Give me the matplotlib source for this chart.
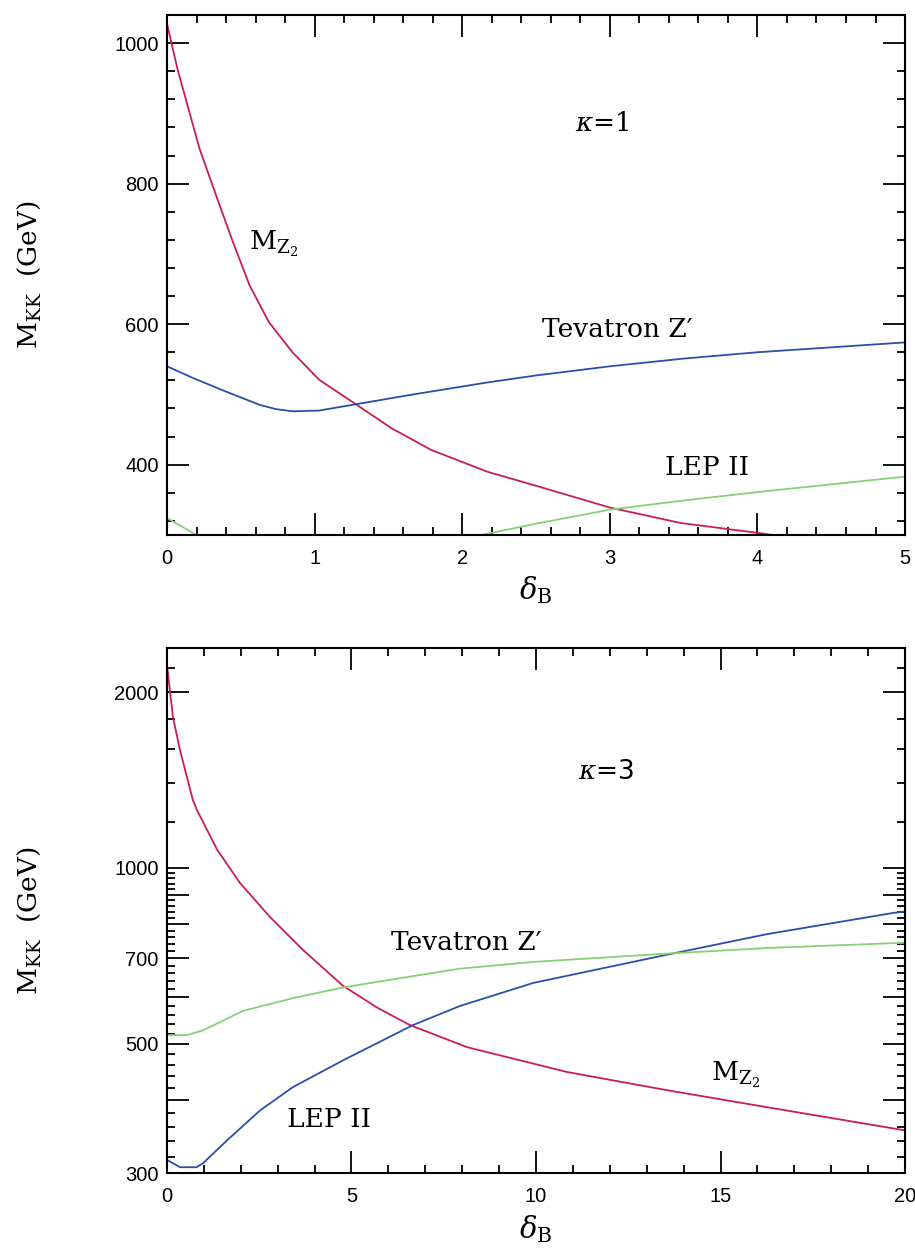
import numpy as np
import matplotlib
matplotlib.use("Agg")
import matplotlib.pyplot as plt
from matplotlib.ticker import FixedLocator, NullFormatter

plt.rcParams['mathtext.fontset'] = 'dejavuserif'

# ---- kappa = 1 (top panel) ----
top_mz2_x = [0.0, 0.07, 0.22, 0.34, 0.45, 0.56, 0.69, 0.85, 1.03, 1.28, 1.52, 1.79, 2.17, 2.5, 3.0, 3.48, 4.0, 4.1]
top_mz2_y = [1028, 964, 850, 779, 715, 655, 603, 560, 521, 486, 452, 421, 390, 370, 339, 317, 303, 300]
top_tev_x = [0.0, 0.18, 0.40, 0.63, 0.74, 0.85, 1.03, 1.28, 1.64, 2.17, 2.5, 3.0, 3.5, 4.0, 4.5, 5.0]
top_tev_y = [540, 523, 504, 485, 479, 476, 477, 486, 499, 517, 527, 540, 551, 560, 567, 574]
top_lep_x = [0.0, 0.1, 0.2, 2.13, 2.5, 3.0, 3.5, 4.0, 4.5, 5.0]
top_lep_y = [324, 312, 300, 300, 316, 336, 349, 361, 372, 383]

# ---- kappa = 3 (bottom panel) ----
bot_mz2_x = [0.0, 0.16, 0.35, 0.7, 0.81, 1.36, 1.98, 2.79, 3.69, 4.77, 5.7, 6.58, 8.13, 10.84, 13.55, 16.26, 20.0]
bot_mz2_y = [2230, 1816, 1594, 1308, 1257, 1074, 942, 824, 723, 628, 576, 538, 493, 447, 416, 389, 355]
bot_lep_x = [0.0, 0.35, 0.8, 0.98, 1.62, 2.52, 3.41, 4.77, 6.67, 7.94, 9.92, 13.55, 16.26, 19.67, 20.0]
bot_lep_y = [316, 307, 307, 312, 341, 384, 421, 468, 538, 580, 635, 710, 770, 837, 842]
bot_tev_x = [0.0, 0.54, 0.98, 1.17, 2.06, 3.41, 4.77, 6.31, 7.94, 9.92, 13.55, 16.26, 19.67, 20.0]
bot_tev_y = [517, 517, 527, 534, 569, 598, 624, 647, 672, 690, 713, 729, 743, 744]

red = '#c81f4c'
blue = '#2b4fa9'
green = '#88d078'

tick_family = 'Liberation Sans'
tick_size = 14.5
text_font = {'family': 'DejaVu Serif', 'size': 19}

fig = plt.figure(figsize=(9.15, 12.49), dpi=100)
ax1 = fig.add_axes([0.1825, 0.5717, 0.8066, 0.4163])
ax2 = fig.add_axes([0.1825, 0.0608, 0.8066, 0.4203])

for ax in (ax1, ax2):
    ax.tick_params(which='both', direction='in', top=True, right=True, width=1.3)
    ax.tick_params(which='major', length=16)
    ax.tick_params(which='minor', length=5.5)
    for s in ax.spines.values():
        s.set_linewidth(1.5)

lw = 1.3

# top panel
ax1.plot(top_mz2_x, top_mz2_y, color=red, lw=lw)
ax1.plot(top_tev_x, top_tev_y, color=blue, lw=lw)
ax1.plot(top_lep_x[:3], top_lep_y[:3], color=green, lw=lw)
ax1.plot(top_lep_x[3:], top_lep_y[3:], color=green, lw=lw)
ax1.set_xlim(0, 5)
ax1.set_ylim(300, 1040)
ax1.set_xticks([0, 1, 2, 3, 4, 5])
ax1.xaxis.set_minor_locator(FixedLocator(np.arange(0, 5.01, 0.2)))
ax1.set_yticks([400, 600, 800, 1000])
ax1.yaxis.set_minor_locator(FixedLocator(np.arange(320, 1040, 40)))
for lab in ax1.get_xticklabels() + ax1.get_yticklabels():
    lab.set_fontfamily(tick_family)
    lab.set_fontsize(tick_size)
ax1.tick_params(axis='x', pad=10)
ax1.tick_params(axis='y', pad=6)
ax1.text(2.95, 886, r'$\kappa$=1', ha='center', va='center', fontsize=19, family='DejaVu Serif')
ax1.text(0.72, 714, r'$\mathrm{M}_{\mathrm{Z}_2}$', ha='center', va='center', fontsize=19)
ax1.text(3.05, 593, "Tevatron Z\u2032", ha='center', va='center', **text_font)
ax1.text(3.66, 396, "LEP II", ha='center', va='center', **text_font)
ax1.set_xlabel(r'$\delta_{\mathrm{B}}$', fontsize=21)
ax1.xaxis.set_label_coords(0.5, -0.075)
ax1.set_ylabel(r'$\mathrm{M}_{\mathrm{KK}}$  (GeV)', fontsize=19, family='DejaVu Serif')
ax1.yaxis.set_label_coords(-0.168, 0.5)

# bottom panel
ax2.set_yscale('log')
ax2.plot(bot_mz2_x, bot_mz2_y, color=red, lw=lw)
ax2.plot(bot_lep_x, bot_lep_y, color=blue, lw=lw)
ax2.plot(bot_tev_x, bot_tev_y, color=green, lw=lw)
ax2.set_xlim(0, 20)
ax2.set_ylim(300, 2380)
ax2.set_xticks([0, 5, 10, 15, 20])
ax2.xaxis.set_minor_locator(FixedLocator(np.arange(0, 20.01, 1)))
major_y = [300, 400, 500, 600, 700, 800, 900, 1000, 2000]
ax2.yaxis.set_major_locator(FixedLocator(major_y))
ax2.set_yticklabels(['300', '', '500', '', '700', '', '', '1000', '2000'])
minor_y = [v for v in range(320, 1000, 20) if v % 100 != 0] + [1200, 1400, 1600, 1800, 2200]
ax2.yaxis.set_minor_locator(FixedLocator(minor_y))
ax2.yaxis.set_minor_formatter(NullFormatter())
for lab in ax2.get_xticklabels() + ax2.get_yticklabels():
    lab.set_fontfamily(tick_family)
    lab.set_fontsize(tick_size)
ax2.tick_params(axis='x', pad=10)
ax2.tick_params(axis='y', pad=6)
ax2.text(11.9, 1461, r'$\kappa$=3', ha='center', va='center', fontsize=19)
ax2.text(8.1, 746, "Tevatron Z\u2032", ha='center', va='center', **text_font)
ax2.text(4.4, 370, "LEP II", ha='center', va='center', **text_font)
ax2.text(15.4, 441, r'$\mathrm{M}_{\mathrm{Z}_2}$', ha='center', va='center', fontsize=19)
ax2.set_xlabel(r'$\delta_{\mathrm{B}}$', fontsize=21)
ax2.xaxis.set_label_coords(0.5, -0.077)
ax2.set_ylabel(r'$\mathrm{M}_{\mathrm{KK}}$  (GeV)', fontsize=19, family='DejaVu Serif')
ax2.yaxis.set_label_coords(-0.168, 0.48)

fig.savefig('out.png', dpi=100)
